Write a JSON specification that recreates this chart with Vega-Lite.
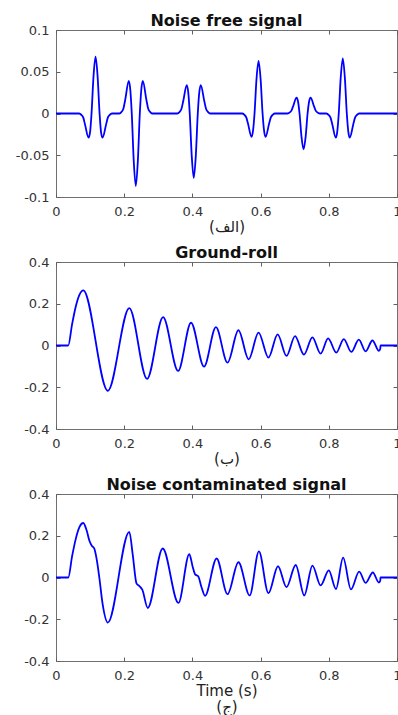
{
  "$schema": "https://vega.github.io/schema/vega-lite/v6.json",
  "background": "white",
  "autosize": {"type": "pad"},
  "padding": {"left": 14, "top": 12, "right": 0, "bottom": 0},
  "spacing": 65,
  "bounds": "flush",
  "datasets": {
    "clean": [
      {"t": 0, "a": 0},
      {"t": 0.068, "a": 0}, {"t": 0.074, "a": -0.0015}, {"t": 0.080, "a": -0.005}, {"t": 0.085, "a": -0.013}, {"t": 0.0955, "a": -0.029}, {"t": 0.100, "a": -0.022}, {"t": 0.1042, "a": 0}, {"t": 0.110, "a": 0.0445}, {"t": 0.116, "a": 0.068}, {"t": 0.122, "a": 0.0445}, {"t": 0.1278, "a": 0}, {"t": 0.132, "a": -0.022}, {"t": 0.1365, "a": -0.029}, {"t": 0.147, "a": -0.013}, {"t": 0.152, "a": -0.005}, {"t": 0.158, "a": -0.0015}, {"t": 0.164, "a": 0},
      {"t": 0.186, "a": 0}, {"t": 0.192, "a": 0.0019}, {"t": 0.198, "a": 0.0064}, {"t": 0.203, "a": 0.0165}, {"t": 0.2135, "a": 0.039}, {"t": 0.218, "a": 0.0278}, {"t": 0.2222, "a": 0}, {"t": 0.228, "a": -0.057}, {"t": 0.234, "a": -0.087}, {"t": 0.240, "a": -0.057}, {"t": 0.2458, "a": 0}, {"t": 0.250, "a": 0.0278}, {"t": 0.2545, "a": 0.039}, {"t": 0.265, "a": 0.0165}, {"t": 0.270, "a": 0.0064}, {"t": 0.276, "a": 0.0019}, {"t": 0.282, "a": 0},
      {"t": 0.356, "a": 0}, {"t": 0.362, "a": 0.0017}, {"t": 0.368, "a": 0.0057}, {"t": 0.373, "a": 0.0146}, {"t": 0.3835, "a": 0.034}, {"t": 0.388, "a": 0.0246}, {"t": 0.3922, "a": 0}, {"t": 0.398, "a": -0.0504}, {"t": 0.404, "a": -0.077}, {"t": 0.410, "a": -0.0504}, {"t": 0.4158, "a": 0}, {"t": 0.420, "a": 0.0246}, {"t": 0.4245, "a": 0.034}, {"t": 0.435, "a": 0.0146}, {"t": 0.440, "a": 0.0057}, {"t": 0.446, "a": 0.0017}, {"t": 0.452, "a": 0},
      {"t": 0.546, "a": 0}, {"t": 0.552, "a": -0.0014}, {"t": 0.558, "a": -0.0047}, {"t": 0.563, "a": -0.012}, {"t": 0.5735, "a": -0.028}, {"t": 0.578, "a": -0.020}, {"t": 0.5822, "a": 0}, {"t": 0.588, "a": 0.0413}, {"t": 0.594, "a": 0.063}, {"t": 0.600, "a": 0.0413}, {"t": 0.6058, "a": 0}, {"t": 0.610, "a": -0.020}, {"t": 0.6145, "a": -0.028}, {"t": 0.625, "a": -0.012}, {"t": 0.630, "a": -0.0047}, {"t": 0.636, "a": -0.0014}, {"t": 0.642, "a": 0},
      {"t": 0.678, "a": 0}, {"t": 0.684, "a": 0.0009}, {"t": 0.690, "a": 0.0032}, {"t": 0.695, "a": 0.0082}, {"t": 0.7055, "a": 0.019}, {"t": 0.710, "a": 0.0138}, {"t": 0.7142, "a": 0}, {"t": 0.720, "a": -0.0282}, {"t": 0.726, "a": -0.043}, {"t": 0.732, "a": -0.0282}, {"t": 0.7378, "a": 0}, {"t": 0.742, "a": 0.0138}, {"t": 0.7465, "a": 0.019}, {"t": 0.757, "a": 0.0082}, {"t": 0.762, "a": 0.0032}, {"t": 0.768, "a": 0.0009}, {"t": 0.774, "a": 0},
      {"t": 0.793, "a": 0}, {"t": 0.799, "a": -0.0015}, {"t": 0.805, "a": -0.0049}, {"t": 0.810, "a": -0.0125}, {"t": 0.8205, "a": -0.029}, {"t": 0.825, "a": -0.021}, {"t": 0.8292, "a": 0}, {"t": 0.835, "a": 0.0432}, {"t": 0.841, "a": 0.066}, {"t": 0.847, "a": 0.0432}, {"t": 0.8528, "a": 0}, {"t": 0.857, "a": -0.021}, {"t": 0.8615, "a": -0.029}, {"t": 0.872, "a": -0.0125}, {"t": 0.877, "a": -0.0049}, {"t": 0.883, "a": -0.0015}, {"t": 0.889, "a": 0},
      {"t": 1, "a": 0}
    ],
    "ground": [
      {"t": 0, "a": 0}, {"t": 0.036, "a": 0}, {"t": 0.047, "a": 0.10}, {"t": 0.058, "a": 0.187}, {"t": 0.069, "a": 0.244}, {"t": 0.080, "a": 0.264},
      {"t": 0.152, "a": -0.217}, {"t": 0.215, "a": 0.179}, {"t": 0.267, "a": -0.160}, {"t": 0.314, "a": 0.136}, {"t": 0.358, "a": -0.122}, {"t": 0.396, "a": 0.109}, {"t": 0.434, "a": -0.101}, {"t": 0.469, "a": 0.088}, {"t": 0.503, "a": -0.082}, {"t": 0.535, "a": 0.073}, {"t": 0.565, "a": -0.066}, {"t": 0.594, "a": 0.062}, {"t": 0.623, "a": -0.058}, {"t": 0.650, "a": 0.053}, {"t": 0.676, "a": -0.050}, {"t": 0.701, "a": 0.045}, {"t": 0.727, "a": -0.044}, {"t": 0.752, "a": 0.039}, {"t": 0.776, "a": -0.039}, {"t": 0.798, "a": 0.034}, {"t": 0.822, "a": -0.034}, {"t": 0.844, "a": 0.031}, {"t": 0.866, "a": -0.031}, {"t": 0.888, "a": 0.028}, {"t": 0.908, "a": -0.028}, {"t": 0.928, "a": 0.024}, {"t": 0.947, "a": -0.026}, {"t": 0.951, "a": -0.016}, {"t": 0.9515, "a": 0}, {"t": 1, "a": 0}
    ],
    "noisy": [
      {"t": 0, "a": 0}, {"t": 0.036, "a": 0}, {"t": 0.047, "a": 0.10}, {"t": 0.058, "a": 0.185}, {"t": 0.069, "a": 0.242}, {"t": 0.080, "a": 0.261}, {"t": 0.090, "a": 0.225}, {"t": 0.098, "a": 0.176}, {"t": 0.105, "a": 0.152}, {"t": 0.112, "a": 0.139}, {"t": 0.119, "a": 0.09}, {"t": 0.127, "a": 0.0}, {"t": 0.137, "a": -0.13}, {"t": 0.152, "a": -0.216},
      {"t": 0.215, "a": 0.219}, {"t": 0.225, "a": 0.11}, {"t": 0.236, "a": -0.028}, {"t": 0.245, "a": -0.042}, {"t": 0.253, "a": -0.058}, {"t": 0.269, "a": -0.146}, {"t": 0.313, "a": 0.139}, {"t": 0.359, "a": -0.122}, {"t": 0.391, "a": 0.112}, {"t": 0.401, "a": 0.05}, {"t": 0.408, "a": 0.015}, {"t": 0.417, "a": 0.006}, {"t": 0.427, "a": -0.048}, {"t": 0.437, "a": -0.088},
      {"t": 0.471, "a": 0.091}, {"t": 0.503, "a": -0.08}, {"t": 0.535, "a": 0.073}, {"t": 0.568, "a": -0.086}, {"t": 0.595, "a": 0.125}, {"t": 0.623, "a": -0.075}, {"t": 0.651, "a": 0.054}, {"t": 0.676, "a": -0.046}, {"t": 0.703, "a": 0.06}, {"t": 0.728, "a": -0.086}, {"t": 0.752, "a": 0.057}, {"t": 0.776, "a": -0.038}, {"t": 0.800, "a": 0.034}, {"t": 0.821, "a": -0.055}, {"t": 0.842, "a": 0.095}, {"t": 0.865, "a": -0.057}, {"t": 0.889, "a": 0.028}, {"t": 0.908, "a": -0.026}, {"t": 0.929, "a": 0.024}, {"t": 0.947, "a": -0.024}, {"t": 0.951, "a": -0.015}, {"t": 0.9515, "a": 0}, {"t": 1, "a": 0}
    ]
  },
  "vconcat": [
    {
      "title": "Noise free signal",
      "width": 341, "height": 167,
      "data": {"name": "clean"},
      "layer": [
        {"mark": {"type": "line"},
         "encoding": {
           "x": {"field": "t", "type": "quantitative", "scale": {"domain": [0, 1], "nice": false},
                 "axis": {"values": [0, 0.2, 0.4, 0.6, 0.8, 1], "title": "(الف)", "labelExpr": "format(datum.value, '~g')"}},
           "y": {"field": "a", "type": "quantitative", "scale": {"domain": [-0.1, 0.1], "nice": false, "zero": false},
                 "axis": {"values": [-0.1, -0.05, 0, 0.05, 0.1], "title": null, "labelExpr": "datum.value == 0 ? '0' : (datum.value < 0 ? '-' : '') + format(abs(datum.value), '~g')"}}
         }},
        {"mark": {"type": "line", "opacity": 0},
         "encoding": {
           "x": {"field": "t", "type": "quantitative", "axis": {"orient": "top", "labels": false, "title": null, "values": [0, 0.2, 0.4, 0.6, 0.8, 1]}},
           "y": {"field": "a", "type": "quantitative", "axis": {"orient": "right", "labels": false, "title": null, "values": [-0.1, -0.05, 0, 0.05, 0.1]}}
         }}
      ],
      "resolve": {"axis": {"x": "independent", "y": "independent"}}
    },
    {
      "title": "Ground-roll",
      "width": 341, "height": 167,
      "data": {"name": "ground"},
      "layer": [
        {"mark": {"type": "line"},
         "encoding": {
           "x": {"field": "t", "type": "quantitative", "scale": {"domain": [0, 1], "nice": false},
                 "axis": {"values": [0, 0.2, 0.4, 0.6, 0.8, 1], "title": "(ب)", "labelExpr": "format(datum.value, '~g')"}},
           "y": {"field": "a", "type": "quantitative", "scale": {"domain": [-0.4, 0.4], "nice": false, "zero": false},
                 "axis": {"values": [-0.4, -0.2, 0, 0.2, 0.4], "title": null, "labelExpr": "datum.value == 0 ? '0' : (datum.value < 0 ? '-' : '') + format(abs(datum.value), '~g')"}}
         }},
        {"mark": {"type": "line", "opacity": 0},
         "encoding": {
           "x": {"field": "t", "type": "quantitative", "axis": {"orient": "top", "labels": false, "title": null, "values": [0, 0.2, 0.4, 0.6, 0.8, 1]}},
           "y": {"field": "a", "type": "quantitative", "axis": {"orient": "right", "labels": false, "title": null, "values": [-0.4, -0.2, 0, 0.2, 0.4]}}
         }}
      ],
      "resolve": {"axis": {"x": "independent", "y": "independent"}}
    },
    {
      "title": "Noise contaminated signal",
      "width": 341, "height": 167,
      "data": {"name": "noisy"},
      "layer": [
        {"mark": {"type": "line"},
         "encoding": {
           "x": {"field": "t", "type": "quantitative", "scale": {"domain": [0, 1], "nice": false},
                 "axis": {"values": [0, 0.2, 0.4, 0.6, 0.8, 1], "title": ["Time (s)", "(ج)"], "labelExpr": "format(datum.value, '~g')"}},
           "y": {"field": "a", "type": "quantitative", "scale": {"domain": [-0.4, 0.4], "nice": false, "zero": false},
                 "axis": {"values": [-0.4, -0.2, 0, 0.2, 0.4], "title": null, "labelExpr": "datum.value == 0 ? '0' : (datum.value < 0 ? '-' : '') + format(abs(datum.value), '~g')"}}
         }},
        {"mark": {"type": "line", "opacity": 0},
         "encoding": {
           "x": {"field": "t", "type": "quantitative", "axis": {"orient": "top", "labels": false, "title": null, "values": [0, 0.2, 0.4, 0.6, 0.8, 1]}},
           "y": {"field": "a", "type": "quantitative", "axis": {"orient": "right", "labels": false, "title": null, "values": [-0.4, -0.2, 0, 0.2, 0.4]}}
         }}
      ],
      "resolve": {"axis": {"x": "independent", "y": "independent"}}
    }
  ],
  "config": {
    "view": {"stroke": "#707070", "strokeWidth": 1},
    "axis": {"grid": false, "domain": false, "tickColor": "#606060", "tickSize": -4, "labelFlush": false, "labelOverlap": false,
             "labelFont": "DejaVu Sans", "labelFontSize": 13, "labelColor": "#333333", "labelPadding": 11,
             "titleFont": "DejaVu Sans", "titleFontSize": 15, "titleFontWeight": "normal", "titleColor": "#222222", "titlePadding": 1, "titleLineHeight": 16},
    "axisX": {"labelPadding": 12},
    "title": {"font": "DejaVu Sans", "fontSize": 16, "fontWeight": "bold", "color": "#111111", "offset": -5, "baseline": "alphabetic"},
    "line": {"color": "#0000ff", "strokeWidth": 1.8, "interpolate": "monotone"}
  }
}
